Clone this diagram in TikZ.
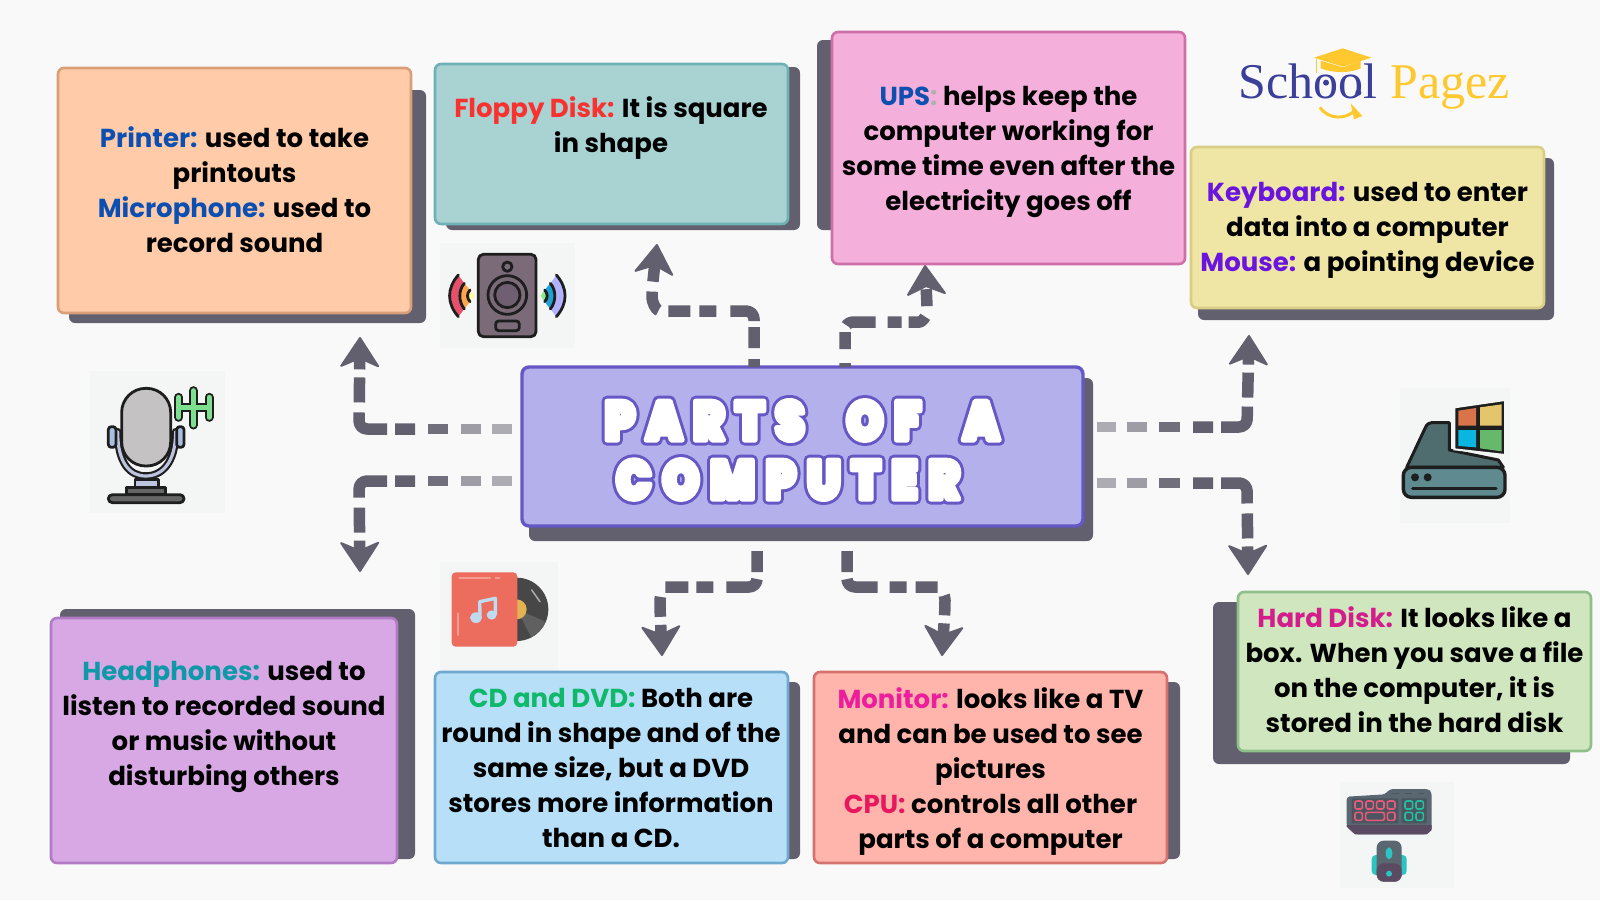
\documentclass[tikz,border=0pt]{standalone}
\usepackage{fontspec}
\setmainfont{Poppins}
\newfontfamily\titlefont{Poppins Black}[LetterSpace=20,FakeStretch=0.85]
\newfontfamily\logofont{Liberation Serif}
\usetikzlibrary{arrows.meta}
\definecolor{pagebg}{HTML}{F9F9F9}
\definecolor{iconbg}{HTML}{F4F6F6}
\definecolor{shade}{HTML}{62606E}
\definecolor{ink}{HTML}{1E1E1E}
\definecolor{titlefill}{HTML}{B3B0EC}
\definecolor{titleline}{HTML}{6558C4}
\definecolor{logoblue}{HTML}{3A3F9A}
\definecolor{logoyellow}{HTML}{FFC82E}
\definecolor{peach}{HTML}{FFCBA8}\definecolor{peachL}{HTML}{DA9E78}
\definecolor{aqua}{HTML}{A9D2D3}\definecolor{aquaL}{HTML}{6FB1B5}
\definecolor{pinkc}{HTML}{F4B0DB}\definecolor{pinkL}{HTML}{CE6FA8}
\definecolor{straw}{HTML}{EFE6A6}\definecolor{strawL}{HTML}{D9CE85}
\definecolor{lilac}{HTML}{D7A8E4}\definecolor{lilacL}{HTML}{B07BC4}
\definecolor{sky}{HTML}{B8DFF8}\definecolor{skyL}{HTML}{6FA9CF}
\definecolor{salmon}{HTML}{FFB5AC}\definecolor{salmonL}{HTML}{D5716E}
\definecolor{mint}{HTML}{CFE6BE}\definecolor{mintL}{HTML}{8FC08A}
\definecolor{spkbody}{HTML}{7B6B79}\definecolor{spkcone}{HTML}{6F5F70}
\definecolor{micgrey}{HTML}{C4C2C2}\definecolor{micyoke}{HTML}{BBC3DE}\definecolor{micclip}{HTML}{A9BFE0}
\definecolor{micbase}{HTML}{666666}\definecolor{micgreen}{HTML}{7DE08F}
\definecolor{albred}{HTML}{EC6C5E}\definecolor{albhi}{HTML}{F49C8F}\definecolor{albnote}{HTML}{BFDBF0}
\definecolor{vinyl}{HTML}{474747}\definecolor{vinylhi}{HTML}{606060}\definecolor{vinyllab}{HTML}{E2B350}
\definecolor{hddtop}{HTML}{4F6C6E}\definecolor{hddfront}{HTML}{5E8A90}
\definecolor{winO}{HTML}{D9734A}\definecolor{winY}{HTML}{E5C56B}\definecolor{winB}{HTML}{0AB5DF}\definecolor{winG}{HTML}{66B96A}
\definecolor{kbbody}{HTML}{5A6670}\definecolor{kblow}{HTML}{5A4A62}\definecolor{kbpanel}{HTML}{4A5560}
\definecolor{kbpink}{HTML}{E85A78}\definecolor{kbteal}{HTML}{20C0A0}\definecolor{mouseteal}{HTML}{2CC3C0}
\tikzset{
  card/.style={anchor=north west,rounded corners=6pt,line width=2.6pt,inner sep=0pt,outer sep=0pt},
  shadowbox/.style={fill=shade,rounded corners=6pt},
  body/.style={anchor=north,align=center,inner sep=0pt,font=\bfseries\fontsize{26}{35}\selectfont,text=black},
  conn/.style={draw=shade,line width=11.5pt,line join=round,rounded corners=8pt,
    -{Stealth[length=32pt,width=42pt,inset=9pt,round,line width=2pt,fill=shade]}},
  fadedash/.style={draw=shade,line width=10pt},
  iconback/.style={fill=iconbg},
  ol/.style={draw=ink,line width=2.8pt,line join=round,line cap=round},
}
\newcommand{\lab}[2]{\textcolor[HTML]{#1}{#2}}
\newcommand{\outlined}[1]{\leavevmode\rlap{\special{pdf:code 2 Tr 11 w 1 j 0.396 0.345 0.769 RG 0.396 0.345 0.769 rg}#1\special{pdf:code 0 Tr 1 w 0 j}}\special{pdf:code 2 Tr 5 w 1 j 1 1 1 RG 1 1 1 rg}#1\special{pdf:code 0 Tr 1 w 0 j}}
\begin{document}
\begin{tikzpicture}[x=1pt,y=-1pt]
\useasboundingbox (0,0) rectangle (1600,900);
\fill[pagebg] (0,0) rectangle (1600,900);

% shadows
\fill[shadowbox] (69,90) rectangle (426,323);
\fill[shadowbox] (446,67) rectangle (800,230);
\fill[shadowbox] (817,40) rectangle (1170,230);
\fill[shadowbox] (1198,158) rectangle (1554,320);
\fill[shadowbox] (60,609) rectangle (415,859);
\fill[shadowbox] (446,682) rectangle (800,859);
\fill[shadowbox] (825,682) rectangle (1180,859);
\fill[shadowbox] (1213,602) rectangle (1570,764);

% icon backings
\fill[iconback] (90,371) rectangle (225,513);
\fill[iconback] (440,243) rectangle (575,348);
\fill[iconback] (440,562) rectangle (558,671);
\fill[iconback] (1400,388) rectangle (1510,523);
\fill[iconback] (1340,782) rectangle (1454,888);

% title
\fill[shadowbox] (529,378) rectangle (1093,541);

% free ends of the connectors
\coordinate (tipA) at (360,337);
\coordinate (tipB) at (360,572);
\coordinate (tipC) at (657,244);
\coordinate (tipD) at (925,265);
\coordinate (tipE) at (1249,335);
\coordinate (tipF) at (1248,575);
\coordinate (tipG) at (662,656);
\coordinate (tipH) at (942,656);

\node[card,fill=titlefill,draw=titleline,line width=3.4pt,rounded corners=7pt,
  minimum width=561pt,minimum height=159pt] (title) at (522,367) {};

% connectors left and right of the title
\draw[conn,dash pattern=on 0pt off 107pt on 20pt off 8pt on 41pt off 10pt on 25pt off 8pt on 100pt off 1pt]
  (title.west |- 0,429) -- (359,429) -- (tipA);
\draw[conn,dash pattern=on 0pt off 107pt on 20pt off 8pt on 41pt off 10pt on 25pt off 8pt on 100pt off 1pt]
  (title.west |- 0,481) -- (359,481) -- (tipB);
\draw[conn,dash pattern=on 0pt off 110pt on 20pt off 8pt on 43pt off 9pt on 25pt off 8pt on 100pt off 1pt]
  (title.east |- 0,427) -- (1247,427) -- (tipE);
\draw[conn,dash pattern=on 0pt off 110pt on 20pt off 8pt on 43pt off 10pt on 25pt off 8pt on 100pt off 1pt]
  (title.east |- 0,483) -- (1247,483) -- (tipF);

% faded dashes next to the title
\draw[fadedash,opacity=.5] (492,429) -- (512,429);
\draw[fadedash,opacity=.6] (461,429) -- (481,429);
\draw[fadedash,opacity=.9] (428,429) -- (448,429);
\draw[fadedash,opacity=.5] (492,481) -- (512,481);
\draw[fadedash,opacity=.6] (461,481) -- (481,481);
\draw[fadedash,opacity=.9] (428,481) -- (448,481);
\draw[fadedash,opacity=.5] (1097,427) -- (1116,427);
\draw[fadedash,opacity=.6] (1127,427) -- (1147,427);
\draw[fadedash,opacity=.9] (1159,427) -- (1180,427);
\draw[fadedash,opacity=.5] (1097,483) -- (1116,483);
\draw[fadedash,opacity=.6] (1127,483) -- (1147,483);
\draw[fadedash,opacity=.9] (1159,483) -- (1180,483);

% connectors above and below the title
\draw[conn,dash pattern=on 8pt off 11pt on 21pt off 6pt on 30pt off 14pt on 17pt off 9pt on 22pt off 10pt on 21pt off 10pt on 100pt off 1pt]
  (title.north -| 754,0) -- (754,311) -- (668,311) .. controls (655,311) and (652,300) .. (652,290) -- (tipC);
\draw[conn,dash pattern=on 4pt off 14pt on 17pt off 7pt on 30pt off 12pt on 14pt off 7pt on 19pt off 11pt on 17pt off 8pt on 100pt off 1pt]
  (title.north -| 845,0) -- (845,322) -- (912,322) .. controls (922,322) and (927,315) .. (927,305) -- (tipD);
\draw[conn,dash pattern=on 0pt off 25pt on 21pt off 7pt on 35pt off 13pt on 17pt off 8pt on 23pt off 12pt on 20pt off 8pt on 100pt off 1pt]
  (title.south -| 757,0) -- (757,587) -- (672,587) .. controls (664,587) and (660,595) .. (660,608) -- (tipG);
\draw[conn,dash pattern=on 0pt off 25pt on 21pt off 7pt on 35pt off 12pt on 17pt off 9pt on 22pt off 12pt on 20pt off 8pt on 100pt off 1pt]
  (title.south -| 847,0) -- (847,587) -- (932,587) .. controls (941,587) and (945,595) .. (945,608) -- (tipH);

\node[align=center,inner sep=0pt,font=\titlefont\fontsize{55}{59}\selectfont,text=white] (titletext) at (802,450)
  {\outlined{PARTS\hspace{23pt} OF\hspace{23pt} A}\\\outlined{COMPUTER}\hspace{28pt}\null};

% cards
\node[card,fill=peach,draw=peachL,minimum width=353pt,minimum height=245pt] (printer) at (58,68) {};
\node[card,fill=aqua,draw=aquaL,minimum width=353pt,minimum height=160pt] (floppy) at (435,64) {};
\node[card,fill=pinkc,draw=pinkL,minimum width=353pt,minimum height=232pt] (ups) at (832,32) {};
\node[card,fill=straw,draw=strawL,minimum width=353pt,minimum height=161pt] (keyboard) at (1191,147) {};
\node[card,fill=lilac,draw=lilacL,minimum width=346pt,minimum height=245pt] (headphones) at (51,618) {};
\node[card,fill=sky,draw=skyL,minimum width=353pt,minimum height=191pt] (cd) at (435,672) {};
\node[card,fill=salmon,draw=salmonL,minimum width=353pt,minimum height=191pt] (monitor) at (814,672) {};
\node[card,fill=mint,draw=mintL,minimum width=353pt,minimum height=159pt] (harddisk) at (1238,592) {};

% card texts
\node[body] (tPrinter) at (234.5,126.5) {\lab{0B4FB3}{Printer:} used to take\\printouts\\\lab{0B4FB3}{Microphone:} used to\\record sound};
\node[body] (tFloppy) at (611,96.5) {\lab{F9322F}{Floppy Disk:} It is square\\in shape};
\node[body] (tUps) at (1008.5,86) {\lab{0F4FB0}{UPS}\lab{B0B0B0}{:} helps keep the\\computer working for\\some time even after the\\electricity goes off};
\node[body] (tKeyboard) at (1367.5,182.5) {\lab{6A14E0}{Keyboard:} used to enter\\data into a computer\\\lab{6A14E0}{Mouse:} a pointing device};
\node[body] (tHeadphones) at (224,661) {\lab{0E99A8}{Headphones:} used to\\listen to recorded sound\\or music without\\disturbing others};
\node[body] (tCd) at (611,688.5) {\lab{10B86A}{CD and DVD:} Both are\\round in shape and of the\\same size, but a DVD\\stores more information\\than a CD.};
\node[body] (tMonitor) at (990.5,687) {\lab{EC1E9C}{Monitor:} looks like a TV\\and can be used to see\\pictures\\\lab{E8185F}{CPU:} controls all other\\parts of a computer};
\node[body] (tHard) at (1414.5,606.5) {\lab{D41C8C}{Hard Disk:} It looks like a\\box. When you save a file\\on the computer, it is\\stored in the hard disk};

% logo
\node[anchor=base west,inner sep=0pt,font=\logofont\fontsize{50}{50}\selectfont,text=logoblue] (logoSchool) at (1238,98.5) {School};
\node[anchor=base west,inner sep=0pt,font=\logofont\fontsize{50}{50}\selectfont,text=logoyellow] (logoPagez) at (1390,98.5) {Pagez};
\begin{scope}[shift={(1200,20)},scale=1/3]
  \fill[logoblue] (378,188) circle (9) (475,218) circle (9);
  \fill[logoyellow] (342,113) -- (428,85) -- (515,113) -- (428,140) -- cycle;
  \fill[logoyellow] (362,122) -- (428,142) -- (482,122) -- (482,145) .. controls (450,160) and (400,160) .. (362,145) -- cycle;
  \draw[logoyellow,line width=1.4pt] (350,116) -- (350,160);
  \draw[logoyellow,line width=3pt] (360,262) .. controls (385,300) and (440,300) .. (468,268);
  \fill[logoyellow] (452,250) -- (487,288) -- (462,298) -- cycle;
\end{scope}

% microphone icon
\begin{scope}[shift={(80,360)},scale=1/3]
  \draw[ink,line width=7.5pt,line cap=round] (113,215) .. controls (113,310) and (150,348) .. (197,348) .. controls (245,348) and (287,310) .. (287,215);
  \draw[micyoke,line width=3.2pt,line cap=round] (113,215) .. controls (113,310) and (150,348) .. (197,348) .. controls (245,348) and (287,310) .. (287,215);
  \filldraw[ol,fill=micgrey,rounded corners=24pt] (125,85) rectangle (272,318);
  \filldraw[ol,fill=micclip,rounded corners=3pt] (85,200) rectangle (108,262);
  \filldraw[ol,fill=micclip,rounded corners=3pt] (290,200) rectangle (312,262);
  \filldraw[ol,fill=micyoke] (165,358) rectangle (235,385);
  \filldraw[ol,fill=micbase] (140,382) rectangle (257,404);
  \filldraw[ol,fill=micbase,rounded corners=4pt] (85,404) rectangle (312,428);
  \draw[ink,line width=9pt,line cap=round] (340,92) -- (340,195) (296,112) -- (296,172) (387,112) -- (387,172) (296,142) -- (387,142);
  \draw[micgreen,line width=5pt,line cap=round] (340,92) -- (340,195) (296,112) -- (296,172) (387,112) -- (387,172) (296,142) -- (387,142);
\end{scope}

% speaker icon
\begin{scope}[shift={(430,235)},scale=1/3]
  \filldraw[ol,fill=spkbody,rounded corners=5pt] (145,58) rectangle (318,305);
  \draw[ol] (232,95) circle (14);
  \draw[ol] (232,180) circle (58);
  \filldraw[ol,fill=spkcone] (232,180) circle (38);
  \draw[ol,rounded corners=3pt] (197,258) rectangle (268,287);
  \fill[red!65!white!90!blue] (85,120) .. controls (50,160) and (50,205) .. (85,245) -- (103,222) .. controls (85,200) and (85,165) .. (103,145) -- cycle;
  \fill[orange!70!white] (103,145) .. controls (85,165) and (85,200) .. (103,222) -- (120,200) .. controls (110,190) and (110,175) .. (120,165) -- cycle;
  \fill[yellow!40!white] (120,165) .. controls (110,175) and (110,190) .. (120,200) -- (132,182) -- cycle;
  \draw[ol] (85,120) .. controls (50,160) and (50,205) .. (85,245);
  \draw[ol] (103,145) .. controls (85,165) and (85,200) .. (103,222);
  \draw[ol] (120,165) .. controls (110,175) and (110,190) .. (120,200);
  \begin{scope}[shift={(464,0)},xscale=-1]
    \fill[blue!30!white] (85,120) .. controls (50,160) and (50,205) .. (85,245) -- (103,222) .. controls (85,200) and (85,165) .. (103,145) -- cycle;
    \fill[cyan!70!teal] (103,145) .. controls (85,165) and (85,200) .. (103,222) -- (120,200) .. controls (110,190) and (110,175) .. (120,165) -- cycle;
    \fill[green!45!white!85!gray] (120,165) .. controls (110,175) and (110,190) .. (120,200) -- (132,182) -- cycle;
    \draw[ol] (85,120) .. controls (50,160) and (50,205) .. (85,245);
    \draw[ol] (103,145) .. controls (85,165) and (85,200) .. (103,222);
    \draw[ol] (120,165) .. controls (110,175) and (110,190) .. (120,200);
  \end{scope}
\end{scope}

% album icon
\begin{scope}[shift={(430,555)},scale=1/3]
  \fill[vinyl] (260,163) circle (95);
  \fill[vinylhi] (260,163) -- (347,200) arc (23:62:95) -- cycle;
  \fill[vinyllab] (260,163) circle (30);
  \draw[black!35,line width=1.6pt,line cap=round] (305,105) -- (330,140);
  \fill[albred,rounded corners=4pt] (65,52) rectangle (262,275);
  \draw[albhi,line width=2pt,line cap=round] (88,68) -- (180,68) (197,68) -- (208,68) (85,175) -- (85,240);
  \fill[albnote] (138,188) ellipse (18 and 16) (185,180) ellipse (15 and 14);
  \draw[albnote,line width=3.4pt,line cap=round,line join=round] (150,185) -- (149,140) -- (196,130) -- (196,178);
\end{scope}

% hard disk icon
\begin{scope}[shift={(1390,380)},scale=1/3]
  \filldraw[ol,fill=hddtop,line width=3pt] (50,262) -- (105,145) .. controls (110,132) and (118,128) .. (125,128) -- (178,128) -- (178,210) -- (325,240) -- (340,262) -- cycle;
  \filldraw[ol,fill=hddfront,line width=3.4pt,rounded corners=8pt] (40,262) rectangle (345,352);
  \fill[ink] (75,292) circle (12) (113,292) circle (12);
  \draw[ink,line width=3.4pt,line cap=round] (68,325) -- (318,325);
  \filldraw[fill=ink,draw=iconbg,line width=2pt] (193,82) -- (345,60) -- (345,225) -- (193,208) -- cycle;
  \fill[winO] (205,92) -- (258,84) -- (258,137) -- (205,137) -- cycle;
  \fill[winY] (270,82) -- (335,73) -- (335,137) -- (270,137) -- cycle;
  \fill[winB] (205,150) -- (258,150) -- (258,202) -- (205,198) -- cycle;
  \fill[winG] (270,150) -- (335,150) -- (335,214) -- (270,205) -- cycle;
\end{scope}

% keyboard and mouse icon
\begin{scope}[shift={(1330,775)},scale=1/3]
  \fill[kbbody,rounded corners=3pt] (50,65) -- (165,58) -- (180,42) -- (295,42) -- (305,52) -- (305,165) -- (290,178) -- (75,178) -- (50,155) -- cycle;
  \fill[kblow] (50,150) -- (305,150) -- (305,165) -- (290,178) -- (75,178) -- (50,155) -- cycle;
  \fill[kbpanel] (65,70) rectangle (205,145) (215,70) rectangle (290,145);
  \draw[kbpanel,line width=1.4pt] (187,55) -- (207,55) (225,55) -- (245,55) (263,55) -- (283,55);
  \draw[kbpink,line width=1.6pt,rounded corners=2pt] (75,78) rectangle (97,102) (108,78) rectangle (130,102) (140,78) rectangle (162,102) (172,78) rectangle (195,102)
    (75,112) rectangle (97,136) (107,112) rectangle (163,136) (172,112) rectangle (195,136);
  \draw[kbteal,line width=1.6pt,rounded corners=2pt] (225,78) rectangle (248,102) (258,78) rectangle (280,102) (225,112) rectangle (248,136) (258,112) rectangle (280,136);
  \fill[mouseteal,rounded corners=4pt] (125,240) rectangle (155,300) (200,240) rectangle (230,300);
  \fill[kbbody,rounded corners=7pt] (140,197) rectangle (215,320);
  \fill[kblow,rounded corners=7pt] (140,265) rectangle (215,320);
  \fill[mouseteal] (177,235) ellipse (10 and 18);
  \fill[mouseteal] (177,296) circle (9);
\end{scope}
\end{tikzpicture}
\end{document}
